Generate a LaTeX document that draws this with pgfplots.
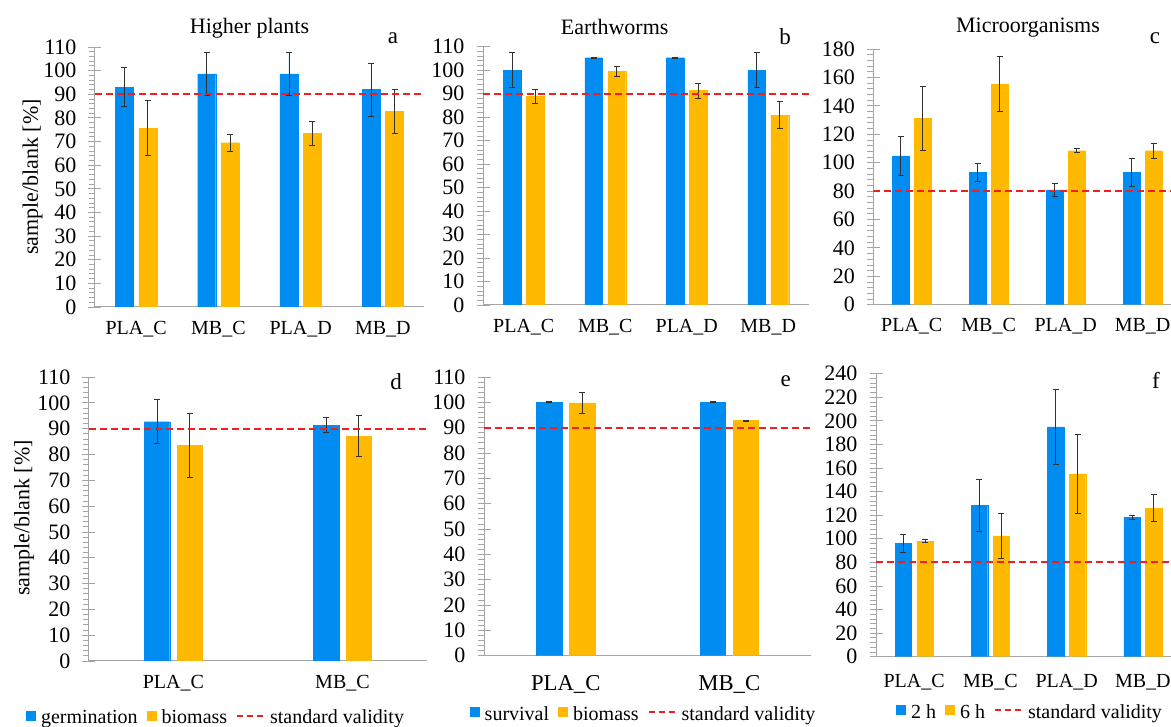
\documentclass[border=0pt]{standalone}
\usepackage{fontspec}
\setmainfont{Liberation Serif}
\usepackage{pgfplots}
\pgfplotsset{compat=1.18}
\usepackage{pgfplotstable}
\definecolor{cblue}{RGB}{0,140,240}
\definecolor{corange}{RGB}{255,185,0}
\definecolor{cred}{RGB}{240,30,30}
\definecolor{axgray}{RGB}{165,165,165}
\definecolor{ebcol}{RGB}{50,50,50}

% panel a: higher plants (germination g, biomass b)
\pgfplotstableread{
x g ge b be
0 93.0 8.2 75.6 11.6
1 98.6 9.1 69.5 3.7
2 98.6 9.1 73.5 5.0
3 92.0 11.2 82.8 9.4
}\dataA
% panel b: earthworms (survival g, biomass b)
\pgfplotstableread{
x g ge b be
0 100.0 7.5 88.9 3.0
1 105.3 0.2 99.4 2.1
2 105.3 0.2 91.3 3.2
3 100.0 7.5 80.9 5.9
}\dataB
% panel c: microorganisms (2 h g, 6 h b)
\pgfplotstableread{
x g ge b be
0 104.7 13.5 131.2 22.5
1 93.4 6.3 155.4 19.5
2 80.8 4.4 108.4 1.4
3 93.2 10.0 108.4 5.2
}\dataC
% panel d
\pgfplotstableread{
x g ge b be
0 92.7 8.6 83.5 12.5
1 91.4 2.9 87.1 7.9
}\dataD
% panel e
\pgfplotstableread{
x g ge b be
0 100.0 0.2 99.8 4.3
1 100.0 0.2 92.8 0.2
}\dataE
% panel f
\pgfplotstableread{
x g ge b be
0 96.2 7.5 98.1 1.0
1 128.1 22.2 102.4 19.4
2 194.8 32.0 155.0 33.8
3 118.2 1.5 126.1 11.7
}\dataF

\pgfplotsset{
  panel/.style={
    scale only axis, anchor=south west,
    axis x line*=bottom, axis y line*=left,
    axis line style={draw=axgray, line width=1pt},
    ymin=0, enlargelimits=false,
    xtick style={draw=none},
    ytick style={draw=axgray, line width=0.8pt},
    tick align=center, major tick length=13pt, minor tick length=6pt,
    minor y tick num=4,
    every minor tick/.append style={xshift=-3pt},
    /pgf/number format/assume math mode=true,
    yticklabel style={font=\fontsize{22}{24}\selectfont, xshift=-8.5pt},
    xticklabel style={font=\fontsize{20}{24}\selectfont, yshift=-4pt},
    legend style={draw=none, fill=none, font=\fontsize{20}{24}\selectfont, legend columns=-1, anchor=center,
      /tikz/every even column/.append style={column sep=9pt},
      /tikz/every odd column/.append style={column sep=0pt},
      nodes={inner xsep=0pt, inner ysep=1pt}, inner sep=0pt},
  },
  eb/.style={error bars/.cd, y dir=both, y explicit,
    error bar style={line width=0.8pt, draw=ebcol, solid},
    error mark options={rotate=90, mark size=3pt, line width=0.8pt, draw=ebcol, solid}},
  vline/.style={forget plot, draw=cred, solid, line width=2.2pt, dash pattern=on 7pt off 4pt},
  vleg/.style={legend image code/.code={\draw[cred, line width=1.8pt, dash pattern=on 6pt off 4pt] (0pt,2pt) -- (30pt,2pt); \path[draw=none,fill=none] (0pt,0pt) -- (33pt,0pt);}},
  sqb/.style={legend image code/.code={\fill[cblue, draw=none] (0pt,-3pt) rectangle (10pt,7pt); \path[draw=none,fill=none] (0pt,0pt) -- (15pt,0pt);}},
  sqo/.style={legend image code/.code={\fill[corange, draw=none] (0pt,-3pt) rectangle (10pt,7pt); \path[draw=none,fill=none] (0pt,0pt) -- (15pt,0pt);}},
  bb/.style={ybar, bar shift=0pt, fill=cblue, draw=cblue, line width=0.3pt},
  bo/.style={ybar, bar shift=0pt, fill=corange, draw=corange, line width=0.3pt},
}

\begin{document}
\begin{tikzpicture}
\path[use as bounding box] (0pt,0pt) rectangle (1171pt,727pt);

% ---------- a ----------
\begin{axis}[panel, at={(95pt,420pt)}, width=329pt, height=260pt,
  xmin=-0.5, xmax=3.5, ymax=110, ytick={0,10,...,110},
  xtick={0,1,2,3}, xticklabels={PLA\_C,MB\_C,PLA\_D,MB\_D}]
\addplot[bb, bar width=18pt, eb] table[x expr=\thisrow{x}-0.1423,y=g,y error=ge]{\dataA};
\addplot[bo, bar width=18pt, eb] table[x expr=\thisrow{x}+0.1423,y=b,y error=be]{\dataA};
\addplot[vline] coordinates {(-0.5,90) (3.5,90)};
\end{axis}

% ---------- b ----------
\begin{axis}[panel, at={(483pt,422pt)}, width=326pt, height=258.3pt,
  xmin=-0.5, xmax=3.5, ymax=110, ytick={0,10,...,110},
  xtick={0,1,2,3}, xticklabels={PLA\_C,MB\_C,PLA\_D,MB\_D}]
\addplot[bb, bar width=17.7pt, eb] table[x expr=\thisrow{x}-0.1423,y=g,y error=ge]{\dataB};
\addplot[bo, bar width=17.7pt, eb] table[x expr=\thisrow{x}+0.1423,y=b,y error=be]{\dataB};
\addplot[vline] coordinates {(-0.5,90) (3.5,90)};
\end{axis}

% ---------- c ----------
\begin{axis}[panel, at={(873.3pt,422.3pt)}, width=307.7pt, height=255.7pt,
  xmin=-0.5, xmax=3.5, ymax=180, ytick={0,20,...,180},
  xtick={0,1,2,3}, xticklabels={PLA\_C,MB\_C,PLA\_D,MB\_D}]
\addplot[bb, bar width=16.7pt, eb] table[x expr=\thisrow{x}-0.143,y=g,y error=ge]{\dataC};
\addplot[bo, bar width=16.7pt, eb] table[x expr=\thisrow{x}+0.143,y=b,y error=be]{\dataC};
\addplot[vline] coordinates {(-0.5,80) (3.5,80)};
\end{axis}

% ---------- d ----------
\begin{axis}[panel, at={(88.9pt,66pt)}, width=338.1pt, height=284pt,
  xmin=-0.5, xmax=1.5, ymax=110, ytick={0,10,...,110},
  xtick={0,1}, xticklabels={PLA\_C,MB\_C},
  legend style={at={(0.373,-0.2)}}]
\addplot[bb, bar width=25.4pt, sqb, eb] table[x expr=\thisrow{x}-0.097,y=g,y error=ge]{\dataD};
\addlegendentry{germination}
\addplot[bo, bar width=25.4pt, sqo, eb] table[x expr=\thisrow{x}+0.097,y=b,y error=be]{\dataD};
\addlegendentry{biomass}
\addplot[vline] coordinates {(-0.5,90) (1.5,90)};
\addlegendimage{vleg}
\addlegendentry{standard validity}
\end{axis}

% ---------- e ----------
\begin{axis}[panel, at={(484pt,71.3pt)}, width=327pt, height=278.7pt,
  xmin=-0.5, xmax=1.5, ymax=110, ytick={0,10,...,110},
  xtick={0,1}, xticklabels={PLA\_C,MB\_C},
  xticklabel style={font=\fontsize{22.7}{26}\selectfont, yshift=-6pt},
  legend style={at={(0.485,-0.209)}}]
\addplot[bb, bar width=25.4pt, sqb, eb] table[x expr=\thisrow{x}-0.1009,y=g,y error=ge]{\dataE};
\addlegendentry{survival}
\addplot[bo, bar width=25.4pt, sqo, eb] table[x expr=\thisrow{x}+0.1009,y=b,y error=be]{\dataE};
\addlegendentry{biomass}
\addplot[vline] coordinates {(-0.5,90) (1.5,90)};
\addlegendimage{vleg}
\addlegendentry{standard validity}
\end{axis}

% ---------- f ----------
\begin{axis}[panel, at={(876pt,70.3pt)}, width=305pt, height=283pt,
  xmin=-0.5, xmax=3.5, ymax=240, ytick={0,20,...,240},
  xtick={0,1,2,3}, xticklabels={PLA\_C,MB\_C,PLA\_D,MB\_D},
  xticklabel style={yshift=-4pt},
  legend style={at={(0.502,-0.195)}}]
\addplot[bb, bar width=16.4pt, sqb, eb] table[x expr=\thisrow{x}-0.143,y=g,y error=ge]{\dataF};
\addlegendentry{2 h}
\addplot[bo, bar width=16.4pt, sqo, eb] table[x expr=\thisrow{x}+0.143,y=b,y error=be]{\dataF};
\addlegendentry{6 h}
\addplot[vline] coordinates {(-0.5,80) (3.5,80)};
\addlegendimage{vleg}
\addlegendentry{standard validity}
\end{axis}

% titles, panel letters, y labels
\node[font=\fontsize{22}{24}\selectfont] at (249.5pt,699pt) {Higher plants};
\node[font=\fontsize{22}{24}\selectfont] at (614.7pt,700pt) {Earthworms};
\node[font=\fontsize{22}{24}\selectfont] at (1028pt,699pt) {Microorganisms};
\node[font=\fontsize{23}{24}\selectfont] at (393pt,689pt) {a};
\node[font=\fontsize{23}{24}\selectfont] at (785pt,690pt) {b};
\node[font=\fontsize{23}{24}\selectfont] at (1155pt,689pt) {c};
\node[font=\fontsize{23}{24}\selectfont] at (396pt,345pt) {d};
\node[font=\fontsize{23}{24}\selectfont] at (785.7pt,345.3pt) {e};
\node[font=\fontsize{23}{24}\selectfont] at (1156pt,347pt) {f};
\node[font=\fontsize{22}{24}\selectfont, rotate=90] at (32.5pt,550pt) {sample/blank [\%]};
\node[font=\fontsize{22}{24}\selectfont, rotate=90] at (24pt,209pt) {sample/blank [\%]};
\end{tikzpicture}
\end{document}
